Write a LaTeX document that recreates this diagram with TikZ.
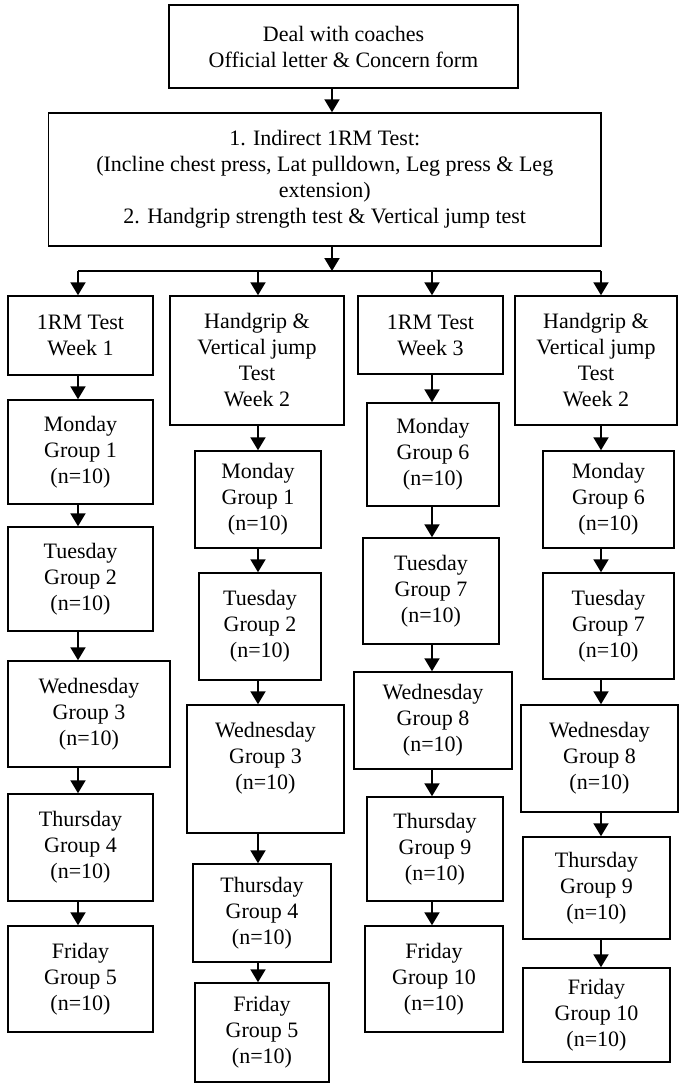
\documentclass[tikz,border=0pt]{standalone}
\usepackage{fontspec}
\setmainfont{Liberation Serif}
\usetikzlibrary{arrows.meta,positioning}
\tikzset{
  box/.style={draw, line width=1.5pt, align=center, inner sep=0pt, font=\fontsize{22}{26}\selectfont},
  arr/.style={line width=2pt, -{Triangle[width=15pt,length=13pt]}}
}
% box from its corners (x1,y1) to (x2,y2)
\newcommand{\flowbox}[6]{\node[box, minimum width=#4pt-#2pt, minimum height=#5pt-#3pt] (#1) at ({(#2+#4)/2},{(#3+#5)/2}) {#6};}

\begin{document}
\begin{tikzpicture}[x=1pt,y=-1pt]
\useasboundingbox (0,0) rectangle (680,1085);
\flowbox{top}{169}{5}{518}{88}{Deal with coaches\\Official letter \& Concern form}
\flowbox{tests}{48.5}{113}{601}{246}{1. Indirect 1RM Test:\\(Incline chest press, Lat pulldown, Leg press \& Leg\\extension)\\2. Handgrip strength test \& Vertical jump test}
\coordinate (spine) at (332,271);
\coordinate (k1) at (78,271);
\coordinate (k2) at (258,271);
\coordinate (k3) at (432,271);
\coordinate (k4) at (601,271);

% week 1
\flowbox{h1}{8}{296}{153}{375}{1RM Test\\Week 1}
\flowbox{a1}{8}{400}{153}{504}{Monday\\Group 1\\(n=10)}
\flowbox{b1}{8}{527}{153}{631}{Tuesday\\Group 2\\(n=10)}
\flowbox{c1}{8}{661}{170}{767}{Wednesday\\Group 3\\(n=10)}
\flowbox{d1}{8}{794}{153}{901}{Thursday\\Group 4\\(n=10)}
\flowbox{e1}{8}{926}{153}{1032}{Friday\\Group 5\\(n=10)}
% week 2
\flowbox{h2}{170}{296}{344}{425}{Handgrip \&\\Vertical jump\\Test\\Week 2}
\flowbox{a2}{195}{451}{321}{548}{Monday\\Group 1\\(n=10)}
\flowbox{b2}{199}{573}{321}{680}{Tuesday\\Group 2\\(n=10)}
\flowbox{c2}{187}{705}{344}{833}{Wednesday\\Group 3\\(n=10)\\~}
\flowbox{d2}{193}{864}{331}{962}{Thursday\\Group 4\\(n=10)}
\flowbox{e2}{195}{983}{329}{1082}{Friday\\Group 5\\(n=10)}
% week 3
\flowbox{h3}{358}{296}{503}{374}{1RM Test\\Week 3}
\flowbox{a3}{367}{403}{499}{506}{Monday\\Group 6\\(n=10)}
\flowbox{b3}{363}{538}{499}{644}{Tuesday\\Group 7\\(n=10)}
\flowbox{c3}{354}{672}{512}{769}{Wednesday\\Group 8\\(n=10)}
\flowbox{d3}{367}{797}{503}{901}{Thursday\\Group 9\\(n=10)}
\flowbox{e3}{365}{926}{503}{1032}{Friday\\Group 10\\(n=10)}
% week 2 (second half)
\flowbox{h4}{515}{296}{677}{425}{Handgrip \&\\Vertical jump\\Test\\Week 2}
\flowbox{a4}{543}{451}{674}{548}{Monday\\Group 6\\(n=10)}
\flowbox{b4}{543}{573}{674}{679}{Tuesday\\Group 7\\(n=10)}
\flowbox{c4}{521}{705}{678}{812}{Wednesday\\Group 8\\(n=10)}
\flowbox{d4}{523}{837}{670}{939}{Thursday\\Group 9\\(n=10)}
\flowbox{e4}{523}{968}{670}{1062}{Friday\\Group 10\\(n=10)}

\draw[arr] (top.south -| spine) -- (tests.north -| spine);
\draw[arr] (tests.south -| spine) -- (spine);
\draw[line width=2pt] (k1) -- (k4);
\foreach \c in {1,2,3,4} {
  \draw[arr] (k\c) -- (h\c.north -| k\c);
  \foreach \p/\q in {h/a,a/b,b/c,c/d,d/e}
    \draw[arr] (\p\c.south -| k\c) -- (\q\c.north -| k\c);
}
\end{tikzpicture}
\end{document}
